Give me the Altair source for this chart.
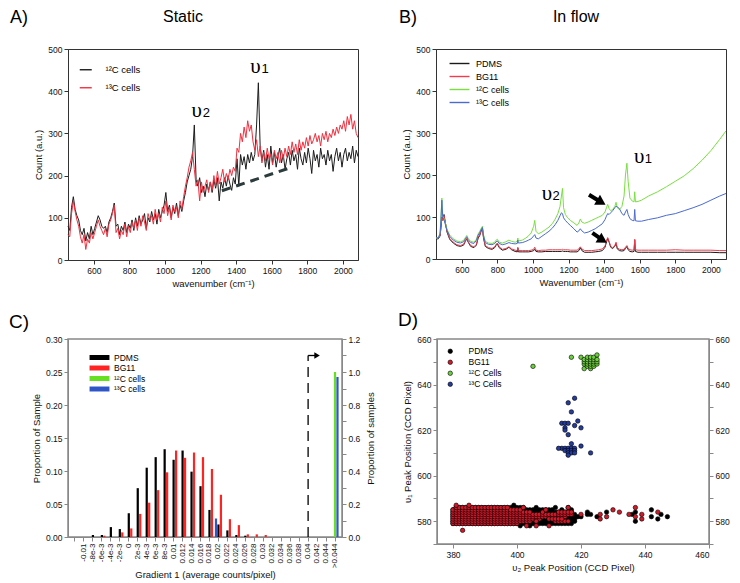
import altair as alt
import pandas as pd

SANS = "Liberation Sans"
SERIF = "Liberation Serif"

# ---------------- Panel A : Static ----------------
A_WN = list(range(455, 2086, 10))  # sampling grid (cm-1)
A_12C = [
    80, 70, 125, 150, 120, 105, 95, 70, 60, 75,
    45, 65, 50, 80, 60, 75, 90, 105, 95, 80,
    75, 80, 65, 90, 100, 115, 135, 80, 85, 60,
    80, 70, 90, 65, 85, 75, 95, 70, 100, 80,
    105, 85, 95, 110, 75, 100, 90, 115, 95, 110,
    85, 120, 100, 115, 130, 160, 115, 130, 100, 125,
    110, 135, 105, 130, 115, 140, 160, 185, 200, 215,
    245, 320, 190, 175, 195, 160, 175, 150, 180, 165,
    185, 160, 190, 170, 195, 140, 185, 170, 195, 175,
    200, 180, 165, 195, 180, 240, 175, 250, 225, 245,
    215, 250, 230, 255, 235, 250, 320, 420, 270, 235,
    260, 220, 250, 215, 270, 230, 255, 220, 245, 265,
    230, 250, 215, 240, 255, 225, 260, 235, 250, 215,
    265, 240, 225, 255, 230, 265, 240, 205, 260, 235,
    250, 220, 265, 240, 250, 225, 260, 235, 250, 210,
    245, 265, 235, 255, 220, 250, 265, 235, 255, 240,
    270, 230, 260, 245,
]
A_13C = [
    60, 55, 110, 140, 115, 95, 80, 55, 40, 60,
    25, 50, 40, 65, 50, 65, 80, 95, 80, 70,
    60, 75, 55, 85, 95, 110, 130, 65, 75, 50,
    70, 60, 85, 55, 80, 65, 90, 75, 95, 70,
    100, 80, 105, 90, 70, 110, 95, 105, 85, 120,
    95, 110, 90, 125, 110, 140, 105, 125, 95, 130,
    115, 125, 100, 140, 120, 150, 175, 195, 220, 235,
    255, 215, 175, 190, 140, 185, 160, 175, 190, 160,
    185, 165, 200, 175, 210, 180, 195, 215, 185, 205,
    190, 215, 200, 220, 210, 265, 255, 300, 280, 315,
    290, 330, 305, 320, 280, 260, 285, 245, 270, 230,
    255, 235, 265, 240, 250, 225, 260, 240, 255, 230,
    260, 240, 265, 245, 270, 250, 280, 255, 275, 250,
    285, 260, 280, 265, 290, 270, 295, 275, 285, 300,
    280, 295, 270, 300, 285, 305, 280, 300, 290, 310,
    295, 315, 300, 320, 310, 330, 305, 340, 320, 345,
    310, 330, 300, 290,
]
A_SERIES = ["¹²C cells", "¹³C cells"]
A_COLORS = ["#1c1c1c", "#f2303f"]
A_DASH_WN = [1320, 1700]
A_DASH_COUNT = [164, 218]
A_UPS_WN = [1178, 1508]
A_UPS_COUNT = [338, 444]
A_SUB_WN = [1212, 1542]
A_SUB_COUNT = [338, 444]
A_SUB_TXT = ["2", "1"]

# ---------------- Panel B : In flow ----------------
B_WN = [455, 468, 478, 483, 488, 493, 500, 507, 517, 532,
        552, 572, 592, 610, 620, 628, 636, 650, 668, 682,
        692, 700, 708, 716, 722, 732, 750, 770, 785, 793,
        800, 810, 828, 848, 865, 880, 900, 912, 915, 918,
        940, 960, 975, 990, 1004, 1010, 1017, 1030, 1050, 1070,
        1090, 1110, 1125, 1140, 1152, 1160, 1166, 1172, 1182, 1195,
        1210, 1230, 1248, 1258, 1266, 1275, 1290, 1310, 1330, 1350,
        1370, 1390, 1405, 1413, 1420, 1428, 1437, 1448, 1460, 1467,
        1474, 1486, 1500, 1512, 1520, 1528, 1535, 1545, 1558, 1568,
        1572, 1576, 1590, 1610, 1650, 1700, 1750, 1800, 1850, 1900,
        1950, 2000, 2050, 2085]
B_PDMS = [48, 48, 55, 75, 100, 92, 106, 88, 64, 47,
          38, 32, 30, 33, 42, 48, 40, 30, 27, 33,
          50, 55, 65, 72, 50, 30, 25, 23, 27, 33,
          36, 27, 21, 23, 28, 22, 18, 17, 26, 17,
          17, 17, 17, 18, 20, 23, 18, 17, 17, 18,
          18, 18, 18, 18, 18, 18, 19, 18, 18, 18,
          17, 17, 17, 20, 27, 20, 16, 16, 16, 17,
          18, 20, 28, 40, 49, 40, 28, 25, 30, 37,
          24, 20, 19, 20, 25, 30, 22, 18, 17, 18,
          45, 18, 16, 16, 16, 16, 16, 16, 16, 16,
          16, 16, 15, 15]
B_BG11 = [50, 50, 57, 76, 98, 92, 103, 88, 66, 49,
          40, 34, 32, 35, 44, 49, 42, 32, 29, 35,
          52, 57, 67, 74, 52, 32, 27, 25, 29, 35,
          38, 29, 23, 25, 29, 24, 21, 20, 28, 20,
          20, 20, 20, 21, 23, 28, 21, 20, 21, 21,
          22, 22, 22, 22, 22, 22, 23, 22, 22, 22,
          21, 21, 21, 24, 29, 24, 20, 20, 20, 21,
          22, 24, 31, 43, 51, 42, 30, 27, 32, 40,
          27, 23, 22, 23, 28, 32, 25, 22, 21, 22,
          47, 22, 21, 21, 21, 21, 21, 22, 21, 21,
          21, 21, 20, 20]
B_12C = [50, 50, 62, 100, 145, 102, 96, 86, 71, 57,
         48, 43, 41, 44, 51, 56, 49, 42, 40, 47,
         60, 65, 72, 78, 58, 42, 38, 37, 40, 45,
         47, 40, 38, 41, 45, 42, 40, 42, 50, 43,
         45, 50, 55, 62, 78, 92, 66, 60, 64, 70,
         76, 85, 95, 108, 125, 150, 168, 122, 106, 98,
         92, 86, 80, 86, 95, 88, 85, 88, 92, 96,
         100, 104, 112, 122, 130, 120, 115, 118, 125, 135,
         122, 118, 125, 150, 200, 228, 185, 145, 138, 136,
         160, 136, 137, 140, 150, 160, 172, 185, 198, 215,
         235, 258, 285, 305]
B_13C = [50, 50, 60, 95, 140, 98, 93, 83, 68, 54,
         45, 40, 38, 41, 48, 53, 46, 39, 37, 44,
         57, 62, 69, 75, 55, 39, 35, 34, 37, 41,
         43, 37, 34, 36, 39, 37, 36, 37, 45, 38,
         39, 42, 45, 48, 55, 58, 50, 48, 54, 60,
         66, 74, 82, 92, 103, 110, 108, 98, 92, 86,
         80, 72, 64, 67, 72, 67, 62, 64, 68, 72,
         78, 84, 94, 102, 108, 106, 110, 115, 122, 126,
         124, 120, 108, 104, 112, 118, 106, 96, 92, 91,
         118, 91, 90, 90, 94, 98, 104, 108, 115, 122,
         130, 140, 150, 156]
B_SERIES = ["PDMS", "BG11", "¹²C cells", "¹³C cells"]
B_COLORS = ["#1a1a1a", "#f03c4c", "#78e040", "#4a6ad0"]
B_UPS_WN = [1078, 1597]
B_UPS_COUNT = [141, 228]
B_SUB_WN = [1110, 1628]
B_SUB_COUNT = [141, 228]
B_SUB_TXT = ["2", "1"]
B_ARROW_TAIL_WN = [1315, 1334]
B_ARROW_TAIL_COUNT = [153, 62]
B_ARROW_HEAD_WN = [1384, 1392]
B_ARROW_HEAD_COUNT = [135, 45]

# ---------------- Panel C : histogram ----------------
C_CATS = [" ", "-0.01", "-8e-3", "-6e-3", "-4e-3", "-2e-3", "0", "2e-3", "4e-3", "6e-3", "8e-3",
          "0.01", "0.012", "0.014", "0.016", "0.018", "0.02", "0.022", "0.024", "0.026", "0.028",
          "0.03", "0.032", "0.034", "0.036", "0.038", "0.04", "0.042", "0.044", ">0.044"]
C_PDMS = [0, 0, 0.003, 0.003, 0.015, 0.012, 0.036, 0.074, 0.105, 0.121, 0.133,
          0.117, 0.131, 0.099, 0.077, 0.041, 0.019, 0.010, 0.003, 0.002, 0,
          0, 0, 0, 0, 0, 0, 0, 0, 0]
C_BG11 = [0, 0, 0, 0.002, 0, 0.007, 0.013, 0.035, 0.052, 0.071, 0.098,
          0.131, 0.120, 0.128, 0.121, 0.103, 0.064, 0.027, 0.018, 0.004, 0.004,
          0.003, 0, 0, 0, 0, 0, 0, 0, 0]
C_13C_LEFT_CAT = ["0.02"]
C_13C_LEFT_VAL = [0.028]
C_RIGHT_CAT = [">0.044", ">0.044"]
C_RIGHT_VAL = [1.0, 0.97]
C_SERIES = ["PDMS", "BG11", "¹²C cells", "¹³C cells"]
C_COLORS = ["#000000", "#ff2424", "#66e020", "#2f56c8"]
C_MARK_CAT = ["0.04", "0.04"]
C_MARK_Y = [0, 1.1]
C_ARROW_CAT = ["0.04", "0.042"]
C_ARROW_Y = [1.1, 1.1]

# ---------------- Panel D : scatter ----------------
D_PDMS_RUNS = [(579, 380, 417), (580, 380, 418), (581, 380, 418), (582, 380, 419),
               (583, 380, 418), (584, 380, 417), (585, 380, 410), (586, 381, 402)]
D_PDMS_PTS = [(399, 587), (401, 578), (404, 578), (412, 586), (416, 586), (417, 585), (420, 582),
              (422, 584), (422, 583), (423, 583), (425, 582), (428, 584), (436, 583), (437, 580),
              (437, 584), (442, 585), (442, 582), (444, 581), (445, 583), (447, 582), (411, 585),
              (414, 585), (406, 586)]
D_BG11_RUNS = [(579, 380, 400), (580, 380, 404), (581, 380, 407), (582, 380, 415),
               (583, 380, 417), (584, 380, 404), (585, 380, 401), (586, 381, 397),
               (584, 413, 417), (580, 412, 416), (581, 410, 414)]
D_BG11_PTS = [(381, 587), (385, 587), (383, 576), (403, 578), (406, 578), (410, 578), (408, 584),
              (409, 585), (420, 583), (426, 583), (426, 581), (428, 582), (430, 585), (432, 584),
              (435, 583), (437, 586), (437, 582), (439, 583), (439, 581), (444, 584), (406, 580),
              (416, 586), (402, 586)]
D_12C_PTS = [(405, 648), (417, 652), (420, 652), (421, 647), (421, 649), (421, 650), (421, 651),
             (422, 648), (422, 649), (422, 650), (422, 651), (422, 652), (423, 647), (423, 648),
             (423, 649), (423, 650), (423, 651), (423, 652), (424, 648), (424, 649), (424, 650),
             (424, 651), (424, 652), (425, 649), (425, 650), (425, 651), (425, 653)]
D_13C_PTS = [(416, 632), (418, 634), (417, 628), (414, 623), (415, 623), (416, 623), (419, 624),
             (418, 622), (420, 621), (415, 621), (415, 620), (416, 618), (417, 614), (420, 613),
             (423, 610), (414, 612), (415, 612), (416, 612), (417, 612), (418, 612), (415, 611),
             (416, 611), (417, 611), (418, 611), (416, 610), (417, 610), (418, 610), (416, 609),
             (413, 612)]
D_SERIES = ["PDMS", "BG11", "¹²C Cells", "¹³C Cells"]
D_COLORS = ["#000000", "#d01a2a", "#6ccf3c", "#253c9c"]


def ax(**kw):
    base = dict(labelFont=SANS, titleFont=SANS, labelFontSize=8.5, titleFontSize=9.5,
                titleFontWeight="normal", tickSize=4, labelColor="#111", titleColor="#111",
                grid=False)
    base.update(kw)
    return alt.Axis(**base)


def label_layer(text, x, y, size):
    return alt.Chart(pd.DataFrame({"t": [text]})).mark_text(
        font=SANS, fontSize=size, align="left", baseline="top", color="black"
    ).encode(x=alt.value(x), y=alt.value(y), text="t:N")


def title_layer(text, x, y):
    return alt.Chart(pd.DataFrame({"t": [text]})).mark_text(
        font=SANS, fontSize=16, align="center", baseline="top", color="black"
    ).encode(x=alt.value(x), y=alt.value(y), text="t:N")


WN_TICKS = [600, 800, 1000, 1200, 1400, 1600, 1800, 2000]

# ---------- A ----------
a_x = alt.X("wn:Q", scale=alt.Scale(domain=[455, 2085], nice=False, zero=False),
            axis=ax(values=WN_TICKS, format="d",
                    title="wavenumber (cm⁻¹)", domainColor="#333", tickColor="#333"))
a_y = alt.Y("count:Q", scale=alt.Scale(domain=[0, 500], nice=False),
            axis=ax(values=[0, 100, 200, 300, 400, 500], title="Count (a.u.)",
                    domainColor="#333", tickColor="#333"))
a_color = alt.Color("sa:N", scale=alt.Scale(domain=A_SERIES, range=A_COLORS),
                    legend=alt.Legend(title=None, orient="none", legendX=13, legendY=16,
                                      symbolType="M-2,0H2", symbolSize=36, symbolStrokeWidth=1.4,
                                      labelFont=SANS, labelFontSize=9.5, labelOffset=15,
                                      rowPadding=7, padding=0))
df_a12 = pd.DataFrame({"wn": A_WN, "count": A_12C, "sa": A_SERIES[0]})
df_a13 = pd.DataFrame({"wn": A_WN, "count": A_13C, "sa": A_SERIES[1]})
A = alt.layer(
    alt.Chart(df_a12).mark_line(strokeWidth=1).encode(x=a_x, y=a_y, color=a_color),
    alt.Chart(df_a13).mark_line(strokeWidth=1).encode(x=a_x, y=a_y, color=a_color),
    alt.Chart(pd.DataFrame({"wn": A_DASH_WN, "count": A_DASH_COUNT})).mark_line(
        strokeDash=[9, 6], strokeWidth=3, color="#2c3c3c").encode(x=a_x, y=a_y),
    alt.Chart(pd.DataFrame({"wn": A_UPS_WN, "count": A_UPS_COUNT, "t": ["υ", "υ"]})).mark_text(
        font=SERIF, fontSize=21, align="center", baseline="alphabetic", color="black"
    ).encode(x=a_x, y=a_y, text="t:N"),
    alt.Chart(pd.DataFrame({"wn": A_SUB_WN, "count": A_SUB_COUNT, "t": A_SUB_TXT})).mark_text(
        font=SANS, fontSize=13, align="left", baseline="alphabetic", color="black"
    ).encode(x=a_x, y=a_y, text="t:N"),
    label_layer("A)", -58, -40, 18),
    title_layer("Static", 115, -40),
).properties(width=290, height=211, view=alt.ViewBackground(stroke="#333", strokeWidth=1))

# ---------- B ----------
b_x = alt.X("wn:Q", scale=alt.Scale(domain=[455, 2085], nice=False, zero=False),
            axis=ax(values=WN_TICKS, format="d",
                    title="Wavenumber (cm⁻¹)", domainColor="#333", tickColor="#333"))
b_y = alt.Y("count:Q", scale=alt.Scale(domain=[0, 500], nice=False),
            axis=ax(values=[0, 100, 200, 300, 400, 500], title="Count (a.u.)",
                    domainColor="#333", tickColor="#333"))
b_color = alt.Color("sb:N", scale=alt.Scale(domain=B_SERIES, range=B_COLORS),
                    legend=alt.Legend(title=None, orient="none", legendX=19, legendY=10,
                                      symbolType="M-3,0H3", symbolSize=44, symbolStrokeWidth=1.4,
                                      labelFont=SANS, labelFontSize=9, labelOffset=12,
                                      rowPadding=3, padding=0))
b_layers = []
for name, vals in zip(B_SERIES, [B_PDMS, B_BG11, B_12C, B_13C]):
    df = pd.DataFrame({"wn": B_WN, "count": vals, "sb": name})
    b_layers.append(alt.Chart(df).mark_line(strokeWidth=1).encode(x=b_x, y=b_y, color=b_color))
df_arrow = pd.DataFrame({"wn": B_ARROW_TAIL_WN, "count": B_ARROW_TAIL_COUNT,
                         "wn2": B_ARROW_HEAD_WN, "count2": B_ARROW_HEAD_COUNT})
B = alt.layer(
    *b_layers,
    alt.Chart(df_arrow).mark_rule(strokeWidth=4, color="black").encode(
        x=b_x, y=b_y, x2="wn2:Q", y2="count2:Q"),
    alt.Chart(pd.DataFrame({"wn": B_ARROW_HEAD_WN, "count": B_ARROW_HEAD_COUNT})).mark_point(
        shape="triangle-right", angle=31, filled=True, size=130, color="black", opacity=1
    ).encode(x=b_x, y=b_y),
    alt.Chart(pd.DataFrame({"wn": B_UPS_WN, "count": B_UPS_COUNT, "t": ["υ", "υ"]})).mark_text(
        font=SERIF, fontSize=21, align="center", baseline="alphabetic", color="black"
    ).encode(x=b_x, y=b_y, text="t:N"),
    alt.Chart(pd.DataFrame({"wn": B_SUB_WN, "count": B_SUB_COUNT, "t": B_SUB_TXT})).mark_text(
        font=SANS, fontSize=13, align="left", baseline="alphabetic", color="black"
    ).encode(x=b_x, y=b_y, text="t:N"),
    label_layer("B)", -37, -40, 18),
    title_layer("In flow", 140, -40),
).properties(width=290, height=210, view=alt.ViewBackground(stroke="#333", strokeWidth=1))

# ---------- C ----------
SLOT_LEFT = {"¹³C cells": "a", "PDMS": "b", "BG11": "c"}
SLOT_RIGHT = {"¹²C cells": "b", "¹³C cells": "c"}
rows = []
for cat, v in zip(C_CATS, C_PDMS):
    if v > 0:
        rows.append({"cat": cat, "val": v, "sc": "PDMS"})
for cat, v in zip(C_CATS, C_BG11):
    if v > 0:
        rows.append({"cat": cat, "val": v, "sc": "BG11"})
for cat, v in zip(C_13C_LEFT_CAT, C_13C_LEFT_VAL):
    rows.append({"cat": cat, "val": v, "sc": "¹³C cells"})
df_cl = pd.DataFrame(rows)
df_cl["slot"] = df_cl["sc"].map(SLOT_LEFT)
df_cr = pd.DataFrame({"cat": C_RIGHT_CAT, "val": C_RIGHT_VAL, "sc": ["¹²C cells", "¹³C cells"]})
df_cr["slot"] = df_cr["sc"].map(SLOT_RIGHT)

c_x = alt.X("cat:N", scale=alt.Scale(domain=C_CATS, paddingInner=0.2, paddingOuter=0.38),
            axis=ax(labelAngle=270, labelOverlap=False, labelFontSize=8,
                    title="Gradient 1 (average counts/pixel)", titlePadding=2,
                    domainColor="#888", tickColor="#888", labelPadding=2))
c_xo = alt.XOffset("slot:N", scale=alt.Scale(domain=["a", "b", "c"], paddingInner=0.1))
c_color = alt.Color("sc:N", scale=alt.Scale(domain=C_SERIES, range=C_COLORS),
                    legend=alt.Legend(title=None, orient="none", legendX=27, legendY=14,
                                      symbolType="M-3,-0.75H3V0.75H-3Z", symbolSize=44,
                                      labelFont=SANS, labelFontSize=8.5, labelOffset=10,
                                      rowPadding=1.5, padding=0))
c_right_scale = alt.Scale(domain=[0, 1.2], nice=False)
C = alt.layer(
    alt.Chart(df_cl).mark_bar().encode(
        x=c_x, xOffset=c_xo, color=c_color,
        y=alt.Y("val:Q", scale=alt.Scale(domain=[0, 0.3], nice=False),
                axis=ax(orient="left", values=[0, 0.05, 0.1, 0.15, 0.2, 0.25, 0.3], format=".2f",
                        title="Proportion of Sample", domainColor="#888", tickColor="#888"))),
    alt.Chart(df_cr).mark_bar().encode(
        x=c_x, xOffset=c_xo, color=c_color,
        y=alt.Y("val:Q", scale=c_right_scale,
                axis=ax(orient="right", values=[0, 0.1, 0.2, 0.3, 0.4, 0.5, 0.6, 0.7, 0.8, 0.9, 1.0, 1.1, 1.2],
                        format=".1f", labelExpr="round(datum.value*10) % 2 == 0 ? datum.label : ''",
                        title="Proportion of samples", titleAngle=270, titleBaseline="top",
                        titlePadding=6, domainColor="#888", tickColor="#888"))),
    alt.Chart(pd.DataFrame({"cat": C_MARK_CAT, "y": C_MARK_Y})).mark_line(
        strokeDash=[10, 6], strokeWidth=1.3, color="black").encode(
        x=c_x, y=alt.Y("y:Q", scale=c_right_scale, axis=None)),
    alt.Chart(pd.DataFrame({"cat": C_ARROW_CAT, "y": C_ARROW_Y})).mark_line(
        strokeWidth=1.3, color="black").encode(
        x=c_x, y=alt.Y("y:Q", scale=c_right_scale, axis=None)),
    alt.Chart(pd.DataFrame({"cat": C_ARROW_CAT[1:], "y": C_ARROW_Y[1:]})).mark_point(
        shape="triangle-right", filled=True, size=40, color="black", opacity=1).encode(
        x=c_x, y=alt.Y("y:Q", scale=c_right_scale, axis=None)),
    label_layer("C)", -59, -26, 19),
).resolve_scale(y="independent").properties(
    width=274, height=198, view=alt.ViewBackground(stroke="#888", strokeWidth=1.5))

# ---------- D ----------
def expand(runs, pts):
    out = []
    for y, a, b in runs:
        for xv in range(a, b + 1):
            out.append((xv, y))
    return out + list(pts)

d_x = alt.X("px:Q", scale=alt.Scale(domain=[375, 460], nice=False, zero=False),
            axis=ax(values=[380, 400, 420, 440, 460], title="υ₂ Peak Position (CCD Pixel)",
                    domainColor="#888", tickColor="#888"))
d_scale = alt.Scale(domain=[570, 660], nice=False, zero=False)
D_TICKS = [570, 580, 590, 600, 610, 620, 630, 640, 650, 660]
d_label_expr = "round(datum.value) % 20 == 0 ? datum.label : ''"
d_y_left = alt.Y("py:Q", scale=d_scale,
                 axis=ax(orient="left", values=D_TICKS, labelExpr=d_label_expr,
                         title="υ₁ Peak Position (CCD Pixel)", domainColor="#888", tickColor="#888"))
d_y_right = alt.Y("py:Q", scale=d_scale,
                  axis=ax(orient="right", values=D_TICKS, labelExpr=d_label_expr, title=None,
                          domainColor="#888", tickColor="#888"))
d_y_none = alt.Y("py:Q", scale=d_scale, axis=None)
d_fill = alt.Fill("sd:N", scale=alt.Scale(domain=D_SERIES, range=D_COLORS),
                  legend=alt.Legend(title=None, orient="none", legendX=9, legendY=8,
                                    symbolType="circle", symbolSize=20, symbolStrokeColor="black",
                                    symbolStrokeWidth=0.6, labelFont=SANS, labelFontSize=8.5,
                                    labelOffset=14, rowPadding=2, padding=0))
d_sets = [expand(D_PDMS_RUNS, D_PDMS_PTS), expand(D_BG11_RUNS, D_BG11_PTS), D_12C_PTS, D_13C_PTS]
d_layers = []
for i, (name, pts) in enumerate(zip(D_SERIES, d_sets)):
    df = pd.DataFrame({"px": [p[0] for p in pts], "py": [p[1] for p in pts], "sd": name})
    yenc = [d_y_left, d_y_right, d_y_none, d_y_none][i]
    d_layers.append(alt.Chart(df).mark_point(
        shape="circle", filled=True, size=20, stroke="black", strokeWidth=0.6, opacity=1
    ).encode(x=d_x, y=yenc, fill=d_fill))
D = alt.layer(*d_layers, label_layer("D)", -39, -28, 19)).resolve_axis(y="independent").properties(
    width=272, height=205, view=alt.ViewBackground(stroke="#888", strokeWidth=1.5))

row1 = alt.hconcat(A, B, spacing=78, bounds="flush").resolve_scale(color="independent")
row2 = alt.hconcat(C, D, spacing=95, bounds="flush").resolve_scale(color="independent", fill="independent")
chart = alt.vconcat(row1, row2, spacing=21).resolve_scale(
    color="independent", fill="independent").properties(padding=0)

chart.save("out.html", embed_options={"renderer": "svg", "actions": False})
